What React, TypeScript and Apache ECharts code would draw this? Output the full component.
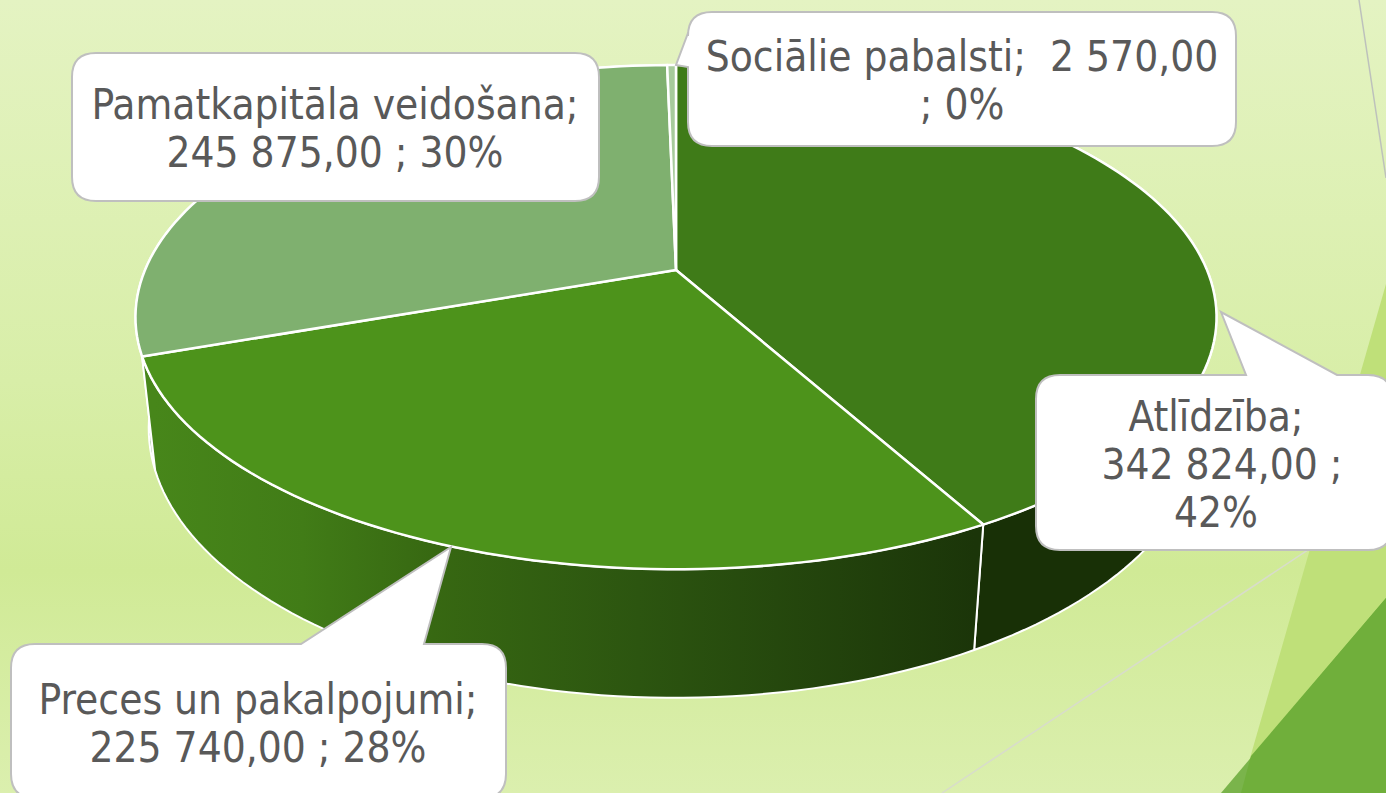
import React, { useEffect, useRef } from "react";
import * as echarts from "echarts";

const names = ["Atlīdzība", "Preces un pakalpojumi", "Pamatkapitāla veidošana", "Sociālie pabalsti"];
const values = [342824, 225740, 245875, 2570];
const valueLabels = ["342 824,00", "225 740,00", "245 875,00", "2 570,00"];
const topColors = ["#3F7B18", "#4D931B", "#7FB06F", "#A7CB9C"];

const total = values.reduce((a, b) => a + b, 0);
const pct = values.map((v) => Math.round((v / total) * 100));
const labelTexts = [
  `${names[0]};\n ${valueLabels[0]} ;\n${pct[0]}%`,
  `${names[1]};\n${valueLabels[1]} ; ${pct[1]}%`,
  `${names[2]};\n${valueLabels[2]} ; ${pct[2]}%`,
  `${names[3]};  ${valueLabels[3]}\n; ${pct[3]}%`,
];

// perspective projection of the pie's discs
const K = 0.187;
const TOP = { cx: 676, cy: 270, a: 531, b: 243.3 };
const BOTTOM = { cx: 675, cy: 378, a: 517, b: 260 };
function project(d: typeof TOP, theta: number): number[] {
  const u = Math.sin(theta);
  const v = -Math.cos(theta);
  const w = 1 - K * v;
  return [d.cx + (d.a * u) / w, d.cy + (d.b * v) / w];
}
function range(i: number): number[] {
  const start = values.slice(0, i).reduce((a, b) => a + b, 0);
  return [(start / total) * Math.PI * 2, ((start + values[i]) / total) * Math.PI * 2];
}
function arc(d: typeof TOP, t0: number, t1: number): number[][] {
  const n = Math.max(2, Math.ceil(((t1 - t0) / Math.PI) * 120));
  const pts: number[][] = [];
  for (let k = 0; k <= n; k++) pts.push(project(d, t0 + ((t1 - t0) * k) / n));
  return pts;
}

type Tail = { side: "top" | "left"; a: number; b: number; tx: number; ty: number };
function calloutPath(x0: number, y0: number, x1: number, y1: number, r: number, tail?: Tail): string {
  let d = `M ${x0 + r} ${y0} `;
  if (tail && tail.side === "top") d += `L ${tail.a} ${y0} L ${tail.tx} ${tail.ty} L ${tail.b} ${y0} `;
  d += `L ${x1 - r} ${y0} Q ${x1} ${y0} ${x1} ${y0 + r} L ${x1} ${y1 - r} Q ${x1} ${y1} ${x1 - r} ${y1} L ${x0 + r} ${y1} Q ${x0} ${y1} ${x0} ${y1 - r} `;
  if (tail && tail.side === "left") d += `L ${x0} ${tail.b} L ${tail.tx} ${tail.ty} L ${x0} ${tail.a} `;
  d += `L ${x0} ${y0 + r} Q ${x0} ${y0} ${x0 + r} ${y0} Z`;
  return d;
}
const callouts = [
  { d: calloutPath(1036, 375, 1392, 550, 24, { side: "top", a: 1246, b: 1337, tx: 1221, ty: 312 }), tx: 1216, ty: 464 },
  { d: calloutPath(11, 644, 506, 798, 24, { side: "top", a: 301, b: 424, tx: 451, ty: 547 }), tx: 258, ty: 723 },
  { d: calloutPath(72, 53, 599, 201, 24), tx: 335, ty: 128 },
  { d: calloutPath(688, 12, 1236, 146, 24, { side: "left", a: 33, b: 67, tx: 676, ty: 65 }), tx: 962, ty: 80 },
];
callouts.forEach((c, i) => {
  echarts.graphic.registerShape("callout" + i, echarts.graphic.extendPath(c.d as any, {}) as any);
});

const FONT = "'DejaVu Sans Condensed', 'DejaVu Sans', sans-serif";

export default function App() {
  const ref = useRef<HTMLDivElement>(null);
  useEffect(() => {
    document.body.style.margin = "0";
    const chart = echarts.init(ref.current!, undefined, { renderer: "svg" });
    const sideGradient = new echarts.graphic.LinearGradient(
      155, 0, 975, 0,
      [
        { offset: 0, color: "#47861A" },
        { offset: 0.18, color: "#417C17" },
        { offset: 0.34, color: "#376812" },
        { offset: 0.59, color: "#2C5510" },
        { offset: 1, color: "#1B3509" },
      ],
      true as any
    );
    const sideFills: any[] = ["#183006", sideGradient, "#93B58B", "#A7CB9C"];
    chart.setOption({
      animation: false,
      graphic: {
        elements: [
          {
            type: "rect", z: -10, silent: true,
            shape: { x: 0, y: 0, width: 1386, height: 793 },
            style: {
              fill: new echarts.graphic.LinearGradient(0, 0, 0, 1, [
                { offset: 0, color: "#E4F3C2" },
                { offset: 0.48, color: "#D8EEA8" },
                { offset: 0.72, color: "#D0EA96" },
                { offset: 1, color: "#DBEFAE" },
              ]),
            },
          },
          { type: "polygon", z: -9, silent: true, shape: { points: [[1386, 284], [1386, 793], [1240, 793]] }, style: { fill: "#BFE079" } },
          { type: "polygon", z: -8, silent: true, shape: { points: [[1386, 598], [1386, 793], [1221, 793]] }, style: { fill: "#7AB44B" } },
          { type: "polygon", z: -7, silent: true, shape: { points: [[1386, 598], [1386, 793], [1241, 793], [1251, 756]] }, style: { fill: "#70AF3B" } },
          { type: "line", z: -6, silent: true, shape: { x1: 942, y1: 793, x2: 1386, y2: 498 }, style: { stroke: "#D8DCCB", lineWidth: 1.5 } },
          { type: "line", z: -6, silent: true, shape: { x1: 1359, y1: 0, x2: 1386, y2: 178 }, style: { stroke: "#BDC1BC", lineWidth: 1.5 } },
          ...callouts.map((c, i) => ({
            type: "callout" + i, z: 20, silent: true, x: 0, y: 0,
            style: { fill: "#FFFFFF", stroke: "#BFBFBF", lineWidth: 2 },
          })),
          ...callouts.map((c, i) => ({
            type: "text", z: 21, silent: true, x: c.tx, y: c.ty,
            style: {
              text: labelTexts[i], fill: "#595959", font: `42px ${FONT}`,
              textAlign: "center", textVerticalAlign: "middle", lineHeight: 48,
            },
          })),
        ],
      },
      series: [
        {
          type: "custom", coordinateSystem: "none", silent: true, z: 2, clip: false,
          data: values,
          renderItem: (params: any) => {
            const i = params.dataIndex;
            const [t0, t1] = range(i);
            const points = [...arc(TOP, t0, t1), ...arc(BOTTOM, t0, t1).reverse()];
            const mid = (t0 + t1) / 2;
            return {
              type: "polygon", z2: Math.round(100 - 50 * Math.cos(mid)),
              shape: { points },
              style: { fill: sideFills[i], stroke: "#FFFFFF", lineWidth: 2, lineJoin: "round" },
            };
          },
        },
        {
          type: "custom", coordinateSystem: "none", silent: true, z: 3, clip: false,
          data: values,
          renderItem: (params: any) => {
            const i = params.dataIndex;
            const [t0, t1] = range(i);
            const points = [[TOP.cx, TOP.cy], ...arc(TOP, t0, t1)];
            return {
              type: "polygon",
              shape: { points },
              style: { fill: topColors[i], stroke: "#FFFFFF", lineWidth: 2.5, lineJoin: "round" },
            };
          },
        },
      ],
    });
    return () => chart.dispose();
  }, []);
  return <div ref={ref} style={{ width: 1386, height: 793, overflow: "hidden" }} />;
}
